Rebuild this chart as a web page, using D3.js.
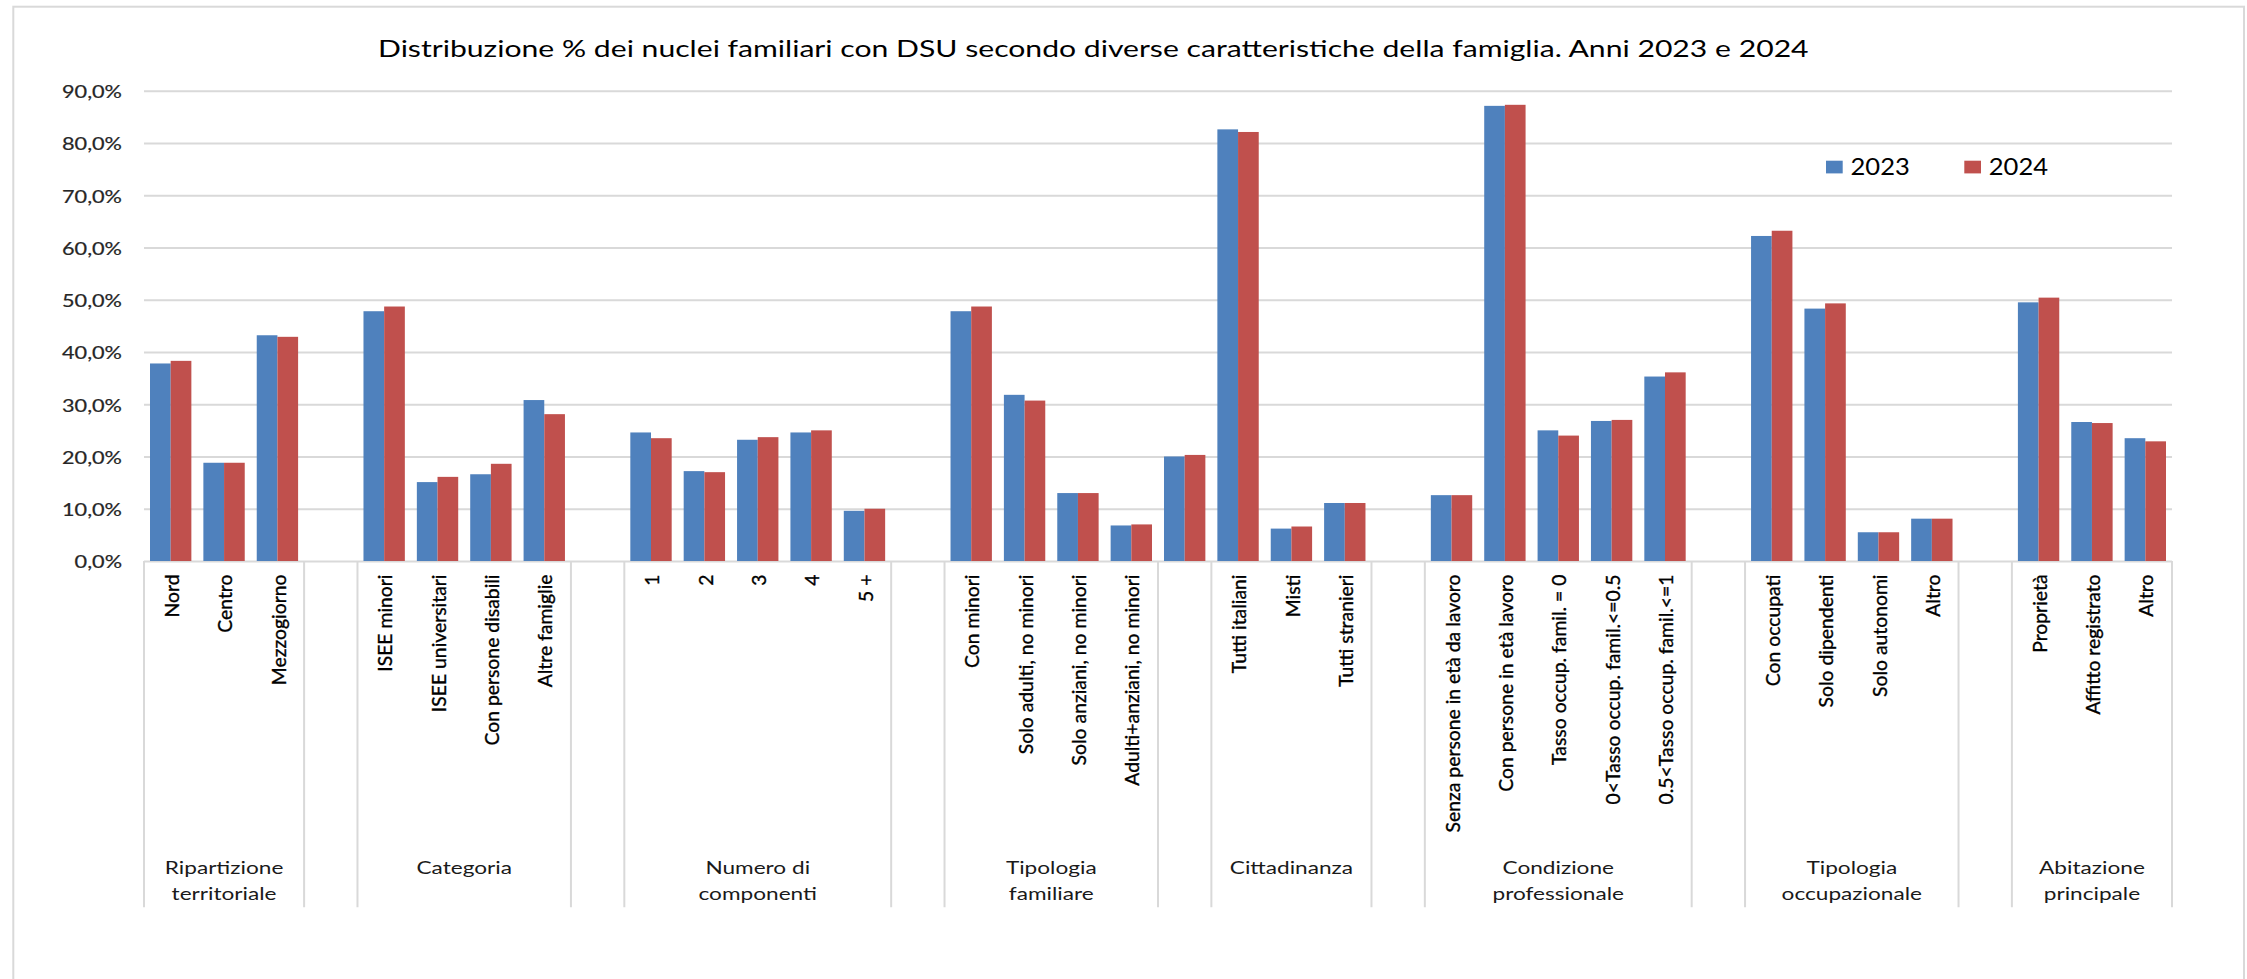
<!DOCTYPE html>
<html>
<head>
<meta charset="utf-8">
<script src="https://cdn.jsdelivr.net/npm/d3@7"></script>
<style>
html, body { margin: 0; padding: 0; background: #ffffff; overflow: hidden; }
svg { display: block; }
</style>
</head>
<body>
<svg id="chart" width="2247" height="979"></svg>
<script>
// ---------------- DATA ----------------
const chartTitle = "Distribuzione % dei nuclei familiari con DSU secondo diverse caratteristiche della famiglia. Anni 2023 e 2024";
const seriesNames = ["2023", "2024"];
const groupLabels = [
  ["Ripartizione", "territoriale"], [],
  ["Categoria"], [],
  ["Numero di", "componenti"], [],
  ["Tipologia", "familiare"], [],
  ["Cittadinanza"], [],
  ["Condizione", "professionale"], [],
  ["Tipologia", "occupazionale"], [],
  ["Abitazione", "principale"]
];
const groupSizes = [3, 1, 4, 1, 5, 1, 4, 1, 3, 1, 5, 1, 4, 1, 3];
const categories = [
  "Nord", "Centro", "Mezzogiorno", "",
  "ISEE minori", "ISEE universitari", "Con persone disabili", "Altre famiglie", "",
  "1", "2", "3", "4", "5 +", "",
  "Con minori", "Solo adulti, no minori", "Solo anziani, no minori", "Adulti+anziani, no minori", "",
  "Tutti italiani", "Misti", "Tutti stranieri", "",
  "Senza persone in età da lavoro", "Con persone in età lavoro", "Tasso occup. famil. = 0", "0<Tasso occup. famil.<=0.5", "0.5<Tasso occup. famil.<=1", "",
  "Con occupati", "Solo dipendenti", "Solo autonomi", "Altro", "",
  "Proprietà", "Affitto registrato", "Altro"
];
const values2023 = [
  37.8, 18.8, 43.2, null,
  47.8, 15.1, 16.6, 30.8, null,
  24.6, 17.2, 23.2, 24.6, 9.6, null,
  47.8, 31.8, 13.0, 6.8, 20.0,
  82.6, 6.2, 11.1, null,
  12.6, 87.1, 25.0, 26.8, 35.3, null,
  62.2, 48.3, 5.5, 8.1, null,
  49.5, 26.6, 23.5
];
const values2024 = [
  38.3, 18.8, 42.9, null,
  48.7, 16.1, 18.6, 28.1, null,
  23.5, 17.0, 23.7, 25.0, 10.0, null,
  48.7, 30.7, 13.0, 7.0, 20.3,
  82.1, 6.6, 11.1, null,
  12.6, 87.3, 24.0, 27.0, 36.1, null,
  63.2, 49.3, 5.5, 8.1, null,
  50.4, 26.4, 22.9
];
const yTicks = [0, 10, 20, 30, 40, 50, 60, 70, 80, 90];
const seriesColors = ["#4F81BD", "#C0504D"];

// ---------------- LAYOUT ----------------
const FONT = "Lato, 'Open Sans', sans-serif";
const CAP = 0.7165;
const svg = d3.select("#chart");
const plot = { left: 144, right: 2172, top: 90.7, bottom: 561 };

function textWidth(str, size) {
  const t = svg.append("text").attr("font-family", FONT).attr("font-size", size).text(str);
  const w = t.node().getComputedTextLength();
  t.remove();
  return w;
}
function fit(capH, sample, targetW) {
  const fs = capH / CAP;
  return { fs, sx: targetW / textWidth(sample, fs) };
}

// outer frame
svg.append("rect")
  .attr("x", 13.3).attr("y", 6.7)
  .attr("width", 2244 - 13.3).attr("height", 1000)
  .attr("fill", "none").attr("stroke", "#D9D9D9").attr("stroke-width", 2);

// scales
const x = d3.scaleBand()
  .domain(d3.range(categories.length))
  .range([plot.left, plot.right])
  .paddingInner(0.225).paddingOuter(0.1125);
const xs = d3.scaleBand().domain(seriesNames).range([0, x.bandwidth()]);
const y = d3.scaleLinear().domain([0, 90]).range([plot.bottom, plot.top]);

// y axis + gridlines
const itLocale = d3.formatLocale({ decimal: ",", thousands: ".", grouping: [3], currency: ["", "€"] });
const f1 = itLocale.format(".1f");
const tickFit = fit(12, "90,0%", 60);
const gy = svg.append("g")
  .attr("transform", `translate(${plot.left},0)`)
  .call(d3.axisLeft(y).tickValues(yTicks).tickSize(-(plot.right - plot.left)).tickPadding(22).tickFormat(d => f1(d) + "%"));
gy.select(".domain").remove();
gy.selectAll(".tick line").attr("stroke", "#D9D9D9").attr("stroke-width", 2);
gy.selectAll(".tick text")
  .attr("x", 0).attr("dy", null)
  .attr("dominant-baseline", "central")
  .attr("font-family", FONT).attr("font-size", tickFit.fs)
  .attr("fill", "#262626")
  .attr("stroke", "#262626").attr("stroke-width", 0.2)
  .attr("transform", `translate(-22,0.5) scale(${tickFit.sx},1)`);

// bars
const barData = [];
categories.forEach((c, i) => {
  [values2023[i], values2024[i]].forEach((v, s) => {
    if (v !== null) barData.push({ i, s, v });
  });
});
svg.append("g").selectAll("rect").data(barData).join("rect")
  .attr("x", d => x(d.i) + xs(seriesNames[d.s]))
  .attr("y", d => y(d.v))
  .attr("width", xs.bandwidth())
  .attr("height", d => y(0) - y(d.v))
  .attr("fill", d => seriesColors[d.s]);

// group separators (multi-level category axis)
const bounds = [0];
groupSizes.forEach(n => bounds.push(bounds[bounds.length - 1] + n));
const step = x.step();
const x0 = plot.left;
svg.append("g").selectAll("line").data(bounds).join("line")
  .attr("x1", k => x0 + k * step).attr("x2", k => x0 + k * step)
  .attr("y1", plot.bottom).attr("y2", 907.3)
  .attr("stroke", "#D9D9D9").attr("stroke-width", 2);

// rotated category labels
const rotFs = 110.7 / textWidth("Mezzogiorno", 1);
const rotSx = 14.3 / (CAP * rotFs);
const capScreen = CAP * rotFs * rotSx;
svg.append("g").selectAll("text").data(categories.map((c, i) => ({ c, i })).filter(d => d.c !== ""))
  .join("text")
  .attr("font-family", FONT).attr("font-size", rotFs)
  .attr("fill", "#000")
  .attr("stroke", "#000").attr("stroke-width", 0.35)
  .attr("text-anchor", "end")
  .attr("transform", d => {
    const cx = x(d.i) + x.bandwidth() / 2 + 1 + capScreen / 2;
    return `translate(${cx},574.5) scale(${rotSx},1) rotate(-90)`;
  })
  .text(d => d.c);

// group labels
const grpFit = fit(12.7, "Ripartizione", 118.6);
const grpG = svg.append("g");
groupLabels.forEach((lines, g) => {
  const cx = x0 + (bounds[g] + groupSizes[g] / 2) * step;
  lines.forEach((ln, j) => {
    grpG.append("text")
      .attr("font-family", FONT).attr("font-size", grpFit.fs)
      .attr("fill", "#1a1a1a")
      .attr("text-anchor", "middle")
      .attr("transform", `translate(${cx},${874 + j * 26}) scale(${grpFit.sx},1)`)
      .text(ln);
  });
});

// title
const titleFit = fit(16.8, chartTitle, 1430);
svg.append("text")
  .attr("font-family", FONT).attr("font-size", titleFit.fs)
  .attr("fill", "#000")
  .attr("transform", `translate(1093.3,57) scale(${titleFit.sx},1)`)
  .attr("text-anchor", "middle")
  .text(chartTitle);

// legend
const legFit = fit(17, "2023", 59.3);
const leg = svg.append("g").selectAll("g").data(seriesNames).join("g")
  .attr("transform", (d, k) => `translate(${1826 + k * 138.3},0)`);
leg.append("rect")
  .attr("x", 0).attr("y", 160.7).attr("width", 16.7).attr("height", 12.7)
  .attr("fill", (d, k) => seriesColors[k]);
leg.append("text")
  .attr("font-family", FONT).attr("font-size", legFit.fs)
  .attr("fill", "#000")
  .attr("transform", `translate(24.5,175) scale(${legFit.sx},1)`)
  .text(d => d);
</script>
</body>
</html>
